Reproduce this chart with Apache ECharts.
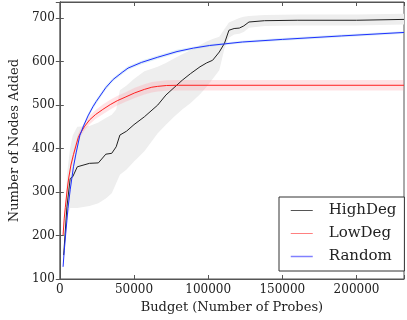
<!DOCTYPE html>
<html><head><meta charset="utf-8">
<script src="https://cdn.jsdelivr.net/npm/echarts@6/dist/echarts.min.js"></script>
<style>html,body{margin:0;padding:0;background:#fff}#c{width:407px;height:320px}</style>
</head><body><div id="c"></div>
<script>
// HighDeg
const hdX   = [2600, 4800, 7000, 8700, 11800, 20000, 26000, 31000, 35000, 38000, 40500, 45000, 50000, 57000, 66000, 71500, 77000, 82500, 88000, 94500, 99000, 103000, 107500, 111000, 114000, 117500, 121000, 124000, 127500, 138000, 160000, 200000, 232000];
const hdMean= [155, 266, 331, 335, 358, 366, 367, 387, 389, 404, 431, 440, 455, 473, 500, 523, 540, 557, 572, 588, 597, 603, 622, 642, 672, 676, 677, 682, 691, 694, 695, 695, 697];
const hdLow = [150, 240, 263, 263, 263, 268, 274, 285, 297, 320, 340, 352, 370, 394, 435, 455, 473, 490, 504, 525, 542, 560, 580, 630, 655, 662, 664, 668, 678, 682, 683, 683, 685];
const hdHigh= [160, 340, 401, 430, 450, 452, 460, 470, 478, 490, 534, 545, 560, 578, 588, 597, 607, 617, 626, 638, 646, 652, 657, 675, 690, 695, 700, 703, 705, 707, 708, 708, 710];
// LowDeg
const ldX   = [2200, 3000, 3700, 4800, 5900, 7500, 9200, 11000, 12400, 13500, 16500, 20100, 24000, 29000, 34000, 38700, 44000, 50500, 57000, 62000, 66000, 72000, 80000, 232000];
const ldMean= [201, 240, 264, 300, 330, 362, 386, 408, 425, 433, 450, 466, 478, 490, 501, 510, 518, 528, 536, 541, 543, 545, 545.5, 545.5];
const ldLow = [196, 234, 258, 293, 322, 354, 378, 400, 416, 424, 441, 456, 468, 479, 490, 499, 507, 516, 524, 529, 531, 533, 533.5, 533.5];
const ldHigh= [206, 246, 270, 307, 338, 370, 394, 416, 434, 442, 459, 476, 488, 501, 512, 521, 529, 540, 548, 553, 555, 557, 557.5, 557.5];
// Random
const rdX   = [2200, 3000, 4000, 4800, 5500, 7000, 9200, 11000, 13500, 16000, 19000, 22300, 24500, 31000, 36000, 42000, 46000, 55000, 66000, 79000, 90000, 101000, 112000, 123000, 150000, 190000, 232000];
const rdMean= [128, 165, 205, 235, 262, 305, 358, 390, 430, 452, 475, 496, 508, 540, 559, 575, 585, 598, 610, 623, 631, 637, 641, 645, 651, 659, 667];
const rdLow = [124, 160, 200, 230, 257, 300, 353, 385, 425, 447, 470, 491, 503, 535, 555, 571, 581, 594, 606, 619, 628, 634, 638, 642, 648, 656, 664];
const rdHigh= [132, 170, 210, 240, 267, 310, 363, 395, 435, 457, 480, 501, 513, 545, 563, 579, 589, 602, 614, 627, 634, 640, 644, 648, 654, 662, 670];

const names = ['HighDeg', 'LowDeg', 'Random'];
const xTicks = [0, 50000, 100000, 150000, 200000];
const yTicks = [100, 200, 300, 400, 500, 600, 700];

const FONT = 'DejaVu Serif';
function pairs(xs, ys){ return xs.map((x,i)=>[x, ys[i]]); }
function band(xs, lo, hi, color){
  return {
    type: 'custom', silent: true, z: 1, clip: true,
    data: [[xs[0], lo[0]]],
    renderItem: function(params, api){
      const pts = [];
      for (let i = 0; i < xs.length; i++) pts.push(api.coord([xs[i], hi[i]]));
      for (let i = xs.length - 1; i >= 0; i--) pts.push(api.coord([xs[i], lo[i]]));
      return {type: 'polygon', shape: {points: pts}, style: {fill: color}};
    }
  };
}
function line(name, xs, ys, color){
  return {
    name: name, type: 'line', data: pairs(xs, ys), symbol: 'none', z: 3,
    smooth: false,
    lineStyle: {color: color, width: 1}, itemStyle: {color: color}
  };
}
const axisCommon = {
  axisLine: {show: true, lineStyle: {color: '#555', width: 1}},
  axisTick: {show: true, inside: true, length: 4, lineStyle: {color: '#555'}},
  splitLine: {show: false}
};
const chart = echarts.init(document.getElementById('c'), null, {renderer: 'canvas'});
chart.setOption({
  animation: false,
  backgroundColor: '#fff',
  grid: {left: 53, right: 0, top: 2, bottom: 41, show: true, borderColor: '#555', borderWidth: 1},
  xAxis: [
    Object.assign({}, axisCommon, {
      type: 'value', min: 0, max: 232000, interval: 50000,
      name: 'Budget (Number of Probes)', nameLocation: 'middle', nameGap: 20,
      nameTextStyle: {fontFamily: FONT, fontSize: 13, color: '#222'},
      axisLabel: {fontFamily: FONT, fontSize: 12, color: '#222', margin: 5,
        formatter: v => xTicks.indexOf(v) >= 0 ? String(v) : ''}
    }),
    Object.assign({}, axisCommon, {
      type: 'value', position: 'top', min: 0, max: 232000, interval: 50000,
      axisLabel: {show: false}
    })
  ],
  yAxis: [
    Object.assign({}, axisCommon, {
      type: 'value', min: 100, max: 737, interval: 100,
      name: 'Number of Nodes Added', nameLocation: 'middle', nameGap: 32,
      nameTextStyle: {fontFamily: FONT, fontSize: 13, color: '#222'},
      axisLabel: {fontFamily: FONT, fontSize: 12, color: '#222', margin: 5,
        formatter: v => yTicks.indexOf(v) >= 0 ? String(v) : ''}
    }),
    Object.assign({}, axisCommon, {
      type: 'value', position: 'right', min: 100, max: 737, interval: 100,
      axisLabel: {show: false}
    })
  ],
  legend: {
    orient: 'vertical', left: 279, top: 197,
    padding: [6, 8, 7, 11], itemGap: 8, itemWidth: 22, itemHeight: 14,
    borderColor: '#333', borderWidth: 1, backgroundColor: '#fff',
    textStyle: {fontFamily: FONT, fontSize: 15, color: '#222', padding: [0, 0, 0, 11], lineHeight: 15},
    data: [
      {name: names[0], itemStyle: {opacity: 0}, lineStyle: {color: '#555', width: 1}},
      {name: names[1], itemStyle: {opacity: 0}, lineStyle: {color: '#ff8080', width: 1}},
      {name: names[2], itemStyle: {opacity: 0}, lineStyle: {color: '#8080ff', width: 1.5}}
    ]
  },
  series: [
    band(hdX, hdLow, hdHigh, '#eeeeee'),
    band(ldX, ldLow, ldHigh, 'rgba(255,150,160,0.28)'),
    band(rdX, rdLow, rdHigh, 'rgba(150,200,235,0.35)'),
    line(names[0], hdX, hdMean, '#222'),
    line(names[1], ldX, ldMean, '#ff2020'),
    line(names[2], rdX, rdMean, '#2030ff')
  ]
});
</script>
</body></html>
